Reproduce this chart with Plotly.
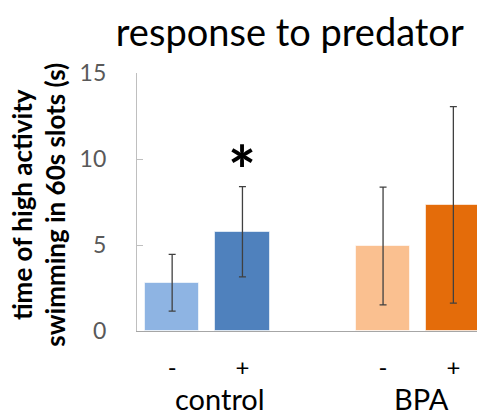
import plotly.graph_objects as go

# data
groups = ["control", "BPA"]
conditions = ["-", "+", "-", "+"]
x_pos = [0, 1, 3, 4]
values = [2.8, 5.77, 4.94, 7.33]
errors = [1.65, 2.62, 3.42, 5.71]
colors = ["#8EB4E3", "#4F81BD", "#FAC090", "#E46C0A"]
group_label_x = [0.68, 3.55]
y_ticks = [0, 5, 10, 15]
signif_pos = 1
signif_y = 9.4

fig = go.Figure()
fig.add_trace(go.Bar(
    x=x_pos, y=values, width=0.77,
    marker=dict(color=colors, line=dict(color="rgba(255,255,255,0.6)", width=1)),
    error_y=dict(type="data", array=errors, visible=True,
                 color="#404040", thickness=1.3, width=3.5),
    showlegend=False,
))

fig.update_layout(
    width=485, height=410,
    margin=dict(l=129, r=8, t=65, b=87, autoexpand=False),
    paper_bgcolor="white", plot_bgcolor="white",
    font=dict(family="Lato, 'Open Sans', sans-serif", color="#000000"),
    title=dict(text="response to predator", x=0.581, xanchor="center",
               y=0.941, yanchor="middle",
               font=dict(size=38, color="#000000")),
    bargap=0,
)
fig.update_xaxes(
    range=[-0.5, 4.45],
    tickvals=x_pos, ticktext=conditions,
    tickfont=dict(size=24, color="#000000"),
    ticks="", showline=True, linecolor="#A6A6A6", linewidth=1.3,
    ticklabelstandoff=15, showgrid=False, zeroline=False, fixedrange=True,
)
fig.update_yaxes(
    range=[0, 15], tickvals=y_ticks,
    tickfont=dict(size=23, color="#595959"),
    ticks="inside", ticklen=6, tickcolor="#BFBFBF",
    showline=True, linecolor="#BFBFBF", linewidth=1.3,
    ticklabelstandoff=25, showgrid=False, zeroline=False, fixedrange=True,
)

for g, c in zip(groups, group_label_x):
    fig.add_annotation(x=c, y=-0.26, xref="x", yref="paper", text=g,
                       showarrow=False, yanchor="middle",
                       font=dict(size=29, color="#000000"))

fig.add_annotation(
    x=-0.284, y=0.49, xref="paper", yref="paper",
    text="<b>time of high activity<br>swimming in 60s slots (s)</b>",
    textangle=-90, showarrow=False, xanchor="center", yanchor="middle",
    font=dict(size=26, color="#000000"),
)

fig.add_annotation(x=signif_pos, y=signif_y, xref="x", yref="y", text="<b>*</b>",
                   showarrow=False, yanchor="middle",
                   font=dict(size=66, color="#000000"))

fig.write_html("out.html")
